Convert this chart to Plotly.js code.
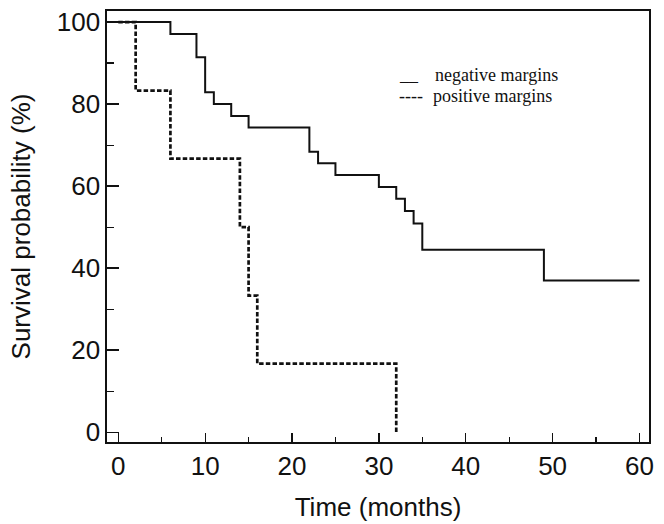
<!DOCTYPE html>
<html>
<head>
<meta charset="utf-8">
<script src="https://cdn.plot.ly/plotly-3.0.1.min.js"></script>
<style>
  html, body { margin: 0; padding: 0; background: #fff; }
  #chart { width: 664px; height: 524px; }
</style>
</head>
<body>
<div id="chart"></div>
<script>
// Kaplan-Meier survival curves
const negTime = [0, 6, 9, 10, 11, 13, 15, 22, 23, 25, 30, 32, 33, 34, 35, 49, 60];
const negSurv = [100, 97.1, 91.4, 82.9, 80.0, 77.1, 74.3, 68.4, 65.6, 62.7, 59.8, 56.9, 53.9, 50.9, 44.5, 37.0, 37.0];

const posTime = [0, 2, 6, 14, 15, 16, 32];
const posSurv = [100, 83.3, 66.7, 50.0, 33.3, 16.7, 0];

const xTickVals = [0, 10, 20, 30, 40, 50, 60];
const yTickVals = [0, 20, 40, 60, 80, 100];

const legendSymbols = ["__", "----"];
const legendLabels = ["negative margins", "positive margins"];

const sansFont = "'Liberation Sans', Arial, Helvetica, sans-serif";
const serifFont = "'Liberation Serif', 'Times New Roman', serif";

const traces = [
  {
    x: posTime, y: posSurv, type: "scatter", mode: "lines",
    name: legendLabels[1],
    line: { shape: "hv", color: "#111", width: 2.7, dash: "4.5px,2.2px" },
    hoverinfo: "skip"
  },
  {
    x: negTime, y: negSurv, type: "scatter", mode: "lines",
    name: legendLabels[0],
    line: { shape: "hv", color: "#111", width: 2 },
    hoverinfo: "skip"
  }
];

const annY = [0.851, 0.803];
const annotations = [];
for (let i = 0; i < 2; i++) {
  annotations.push({
    xref: "paper", yref: "paper", x: 0.535, y: annY[i],
    xanchor: "left", yanchor: "middle", showarrow: false,
    text: legendSymbols[i],
    font: { family: serifFont, size: 18, color: "#111" }
  });
  annotations.push({
    xref: "paper", yref: "paper", x: i === 0 ? 0.601 : 0.597, y: annY[i],
    xanchor: "left", yanchor: "middle", showarrow: false,
    text: legendLabels[i],
    font: { family: serifFont, size: 18, color: "#111" }
  });
}

const layout = {
  width: 664, height: 524,
  margin: { l: 107, r: 15, t: 11, b: 82 },
  paper_bgcolor: "#fff", plot_bgcolor: "#fff",
  showlegend: false,
  font: { family: sansFont, color: "#111" },
  xaxis: {
    range: [-1.3, 61.1],
    tickvals: xTickVals, ticktext: xTickVals.map(String),
    ticks: "inside", ticklen: 9, tickwidth: 1.3, tickcolor: "#111",
    minor: { dtick: 5, tick0: 0, ticks: "inside", ticklen: 5, tickwidth: 1.2, tickcolor: "#111" },
    showline: true, mirror: true, linecolor: "#111", linewidth: 1.6,
    showgrid: false, zeroline: false,
    tickfont: { family: sansFont, size: 26, color: "#111" },
    title: { text: "Time (months)", font: { family: sansFont, size: 26, color: "#111" }, standoff: 18 },
    automargin: false
  },
  yaxis: {
    range: [-2.4, 102.7],
    tickvals: yTickVals, ticktext: yTickVals.map(String),
    ticks: "inside", ticklen: 12, tickwidth: 1.3, tickcolor: "#111",
    minor: { dtick: 10, tick0: 0, ticks: "inside", ticklen: 7, tickwidth: 1.2, tickcolor: "#111" },
    showline: true, mirror: true, linecolor: "#111", linewidth: 1.6,
    showgrid: false, zeroline: false,
    tickfont: { family: sansFont, size: 26, color: "#111" },
    title: { text: "Survival probability (%)", font: { family: sansFont, size: 26, color: "#111" }, standoff: 19 },
    automargin: false
  },
  annotations: annotations
};

Plotly.newPlot("chart", traces, layout, { staticPlot: true, displayModeBar: false });
</script>
</body>
</html>
